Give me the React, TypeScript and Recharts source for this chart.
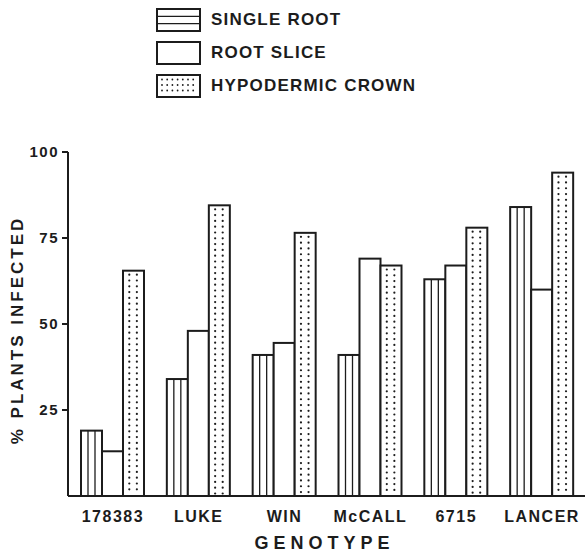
import { BarChart, Bar, XAxis, YAxis, Legend } from 'recharts';

const genotypes = ['178383', 'LUKE', 'WIN', 'McCALL', '6715', 'LANCER'];
const singleRoot = [19, 34, 41, 41, 63, 84];
const rootSlice = [13, 48, 44.5, 69, 67, 60];
const hypodermicCrown = [65.5, 84.5, 76.5, 67, 78, 94];
const yTicks = [25, 50, 75, 100];

const seriesKeys = ['singleRoot', 'rootSlice', 'hypodermicCrown'];
const seriesNames: Record<string, string> = {
  singleRoot: 'SINGLE ROOT',
  rootSlice: 'ROOT SLICE',
  hypodermicCrown: 'HYPODERMIC CROWN',
};

const data = genotypes.map((g, i) => ({
  genotype: g,
  singleRoot: singleRoot[i],
  rootSlice: rootSlice[i],
  hypodermicCrown: hypodermicCrown[i],
}));

const INK = '#1c1c1c';
const FONT = '"Liberation Sans", Arial, sans-serif';

const HatchBar = (props: any) => {
  const { x, y, width, height } = props;
  if (!height || height <= 0) return null;
  return (
    <g>
      <rect x={x} y={y} width={width} height={height} fill="#fff" stroke={INK} strokeWidth={2} />
      <line x1={x + width / 3} x2={x + width / 3} y1={y} y2={y + height} stroke={INK} strokeWidth={1.3} />
      <line x1={x + (2 * width) / 3} x2={x + (2 * width) / 3} y1={y} y2={y + height} stroke={INK} strokeWidth={1.3} />
    </g>
  );
};

const PlainBar = (props: any) => {
  const { x, y, width, height } = props;
  if (!height || height <= 0) return null;
  return <rect x={x} y={y} width={width} height={height} fill="#fff" stroke={INK} strokeWidth={2} />;
};

const DotBar = (props: any) => {
  const { x, y, width, height } = props;
  if (!height || height <= 0) return null;
  const dots = [];
  for (let yy = y + 4; yy < y + height - 2; yy += 5.8) {
    dots.push(<circle key={`a${yy}`} cx={x + width * 0.3} cy={yy} r={1.1} fill={INK} />);
    dots.push(<circle key={`b${yy}`} cx={x + width * 0.66} cy={yy} r={1.1} fill={INK} />);
  }
  return (
    <g>
      <rect x={x} y={y} width={width} height={height} fill="#fff" stroke={INK} strokeWidth={2} />
      {dots}
    </g>
  );
};

const Swatch = ({ kind }: { kind: string }) => {
  const w = 43;
  const h = 22;
  const dots = [];
  if (kind === 'hypodermicCrown') {
    for (let r = 0; r < 3; r++) {
      for (let c = 0; c < 7; c++) {
        dots.push(<circle key={`${r}-${c}`} cx={6 + c * 5.2} cy={5.5 + r * 5.5} r={0.9} fill={INK} />);
      }
    }
  }
  return (
    <svg width={w + 2} height={h + 2} style={{ display: 'block' }}>
      <rect x={1} y={1} width={w} height={h} fill="#fff" stroke={INK} strokeWidth={2} />
      {kind === 'singleRoot' && (
        <>
          <line x1={1} x2={w + 1} y1={1 + h / 3} y2={1 + h / 3} stroke={INK} strokeWidth={1.3} />
          <line x1={1} x2={w + 1} y1={1 + (2 * h) / 3} y2={1 + (2 * h) / 3} stroke={INK} strokeWidth={1.3} />
        </>
      )}
      {dots}
    </svg>
  );
};

const renderLegend = () => (
  <div style={{ position: 'relative', height: 100 }}>
    {seriesKeys.map((key, i) => (
      <div
        key={key}
        style={{
          position: 'absolute',
          left: 156,
          top: 8 + i * 33,
          display: 'flex',
          alignItems: 'center',
        }}
      >
        <Swatch kind={key} />
        <span
          style={{
            marginLeft: 10,
            fontFamily: FONT,
            fontWeight: 700,
            fontSize: 17,
            letterSpacing: 1.2,
            color: INK,
            whiteSpace: 'pre',
          }}
        >
          {seriesNames[key]}
        </span>
      </div>
    ))}
  </div>
);

const YLabel = () => (
  <text
    x={17}
    y={330}
    transform="rotate(-90 17 330)"
    textAnchor="middle"
    dominantBaseline="central"
    fontFamily={FONT}
    fontWeight={700}
    fontSize={17}
    letterSpacing={3}
    fill={INK}
  >
    % PLANTS INFECTED
  </text>
);

const XLabel = (props: any) => {
  const { viewBox } = props;
  const cx = viewBox.x + viewBox.width / 2 - 2;
  return (
    <text
      x={cx}
      y={543}
      textAnchor="middle"
      dominantBaseline="central"
      fontFamily={FONT}
      fontWeight={700}
      fontSize={18}
      letterSpacing={5}
      fill={INK}
    >
      GENOTYPE
    </text>
  );
};

const App = () => {
  return (
    <div style={{ position: 'absolute', left: 0, top: 0, background: '#fff' }}>
      <BarChart
        width={585}
        height={553}
        data={data}
        margin={{ top: 152, right: 0, bottom: 7, left: 8 }}
        barSize={21}
        barGap={0}
      >
        <XAxis
          dataKey="genotype"
          height={50}
          padding={{ left: 2, right: 0 }}
          axisLine={{ stroke: INK, strokeWidth: 2 }}
          tickLine={false}
          tickSize={0}
          tickMargin={15}
          tick={{ fill: INK, fontFamily: FONT, fontWeight: 700, fontSize: 16, letterSpacing: 1.5 }}
          label={<XLabel />}
        />
        <YAxis
          width={60}
          domain={[0, 100]}
          ticks={yTicks}
          axisLine={{ stroke: INK, strokeWidth: 2 }}
          tickLine={{ stroke: INK, strokeWidth: 2 }}
          tickSize={6}
          tickMargin={3}
          tick={{ fill: INK, fontFamily: FONT, fontWeight: 700, fontSize: 15, letterSpacing: 1.5 }}
          label={<YLabel />}
        />
        <Legend
          layout="vertical"
          verticalAlign="middle"
          align="center"
          wrapperStyle={{ top: 0, left: 0, width: 585 }}
          content={renderLegend}
        />
        <Bar dataKey="singleRoot" name="SINGLE ROOT" shape={<HatchBar />} isAnimationActive={false} />
        <Bar dataKey="rootSlice" name="ROOT SLICE" shape={<PlainBar />} isAnimationActive={false} />
        <Bar dataKey="hypodermicCrown" name="HYPODERMIC CROWN" shape={<DotBar />} isAnimationActive={false} />
      </BarChart>
    </div>
  );
};

export default App;
